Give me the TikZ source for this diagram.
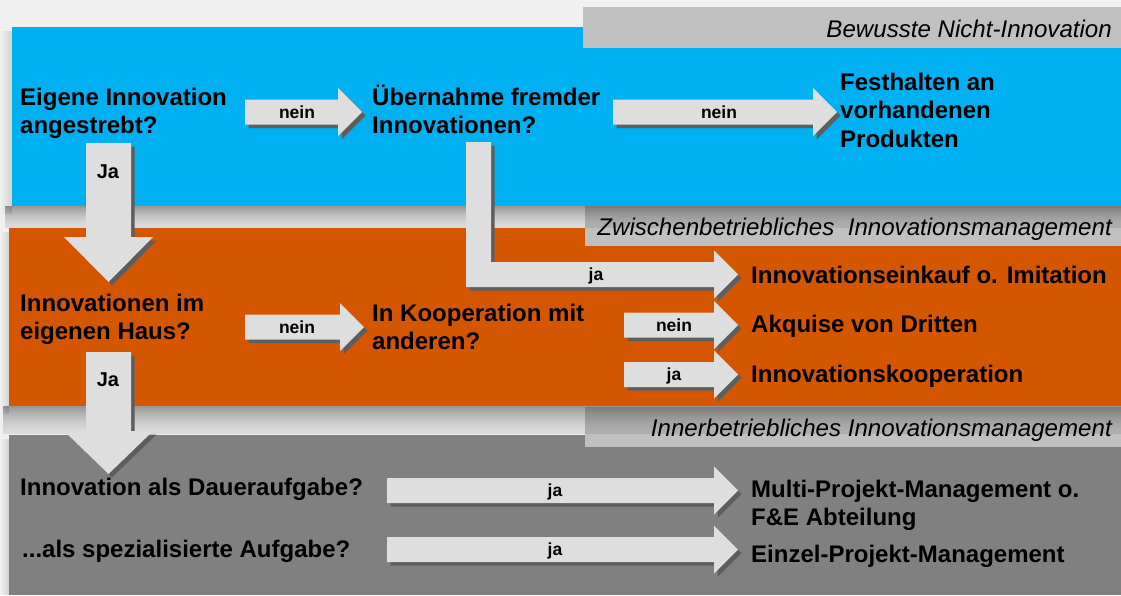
\documentclass[tikz,border=0pt]{standalone}
\usepackage{fontspec}
\setmainfont{Liberation Sans}
\usetikzlibrary{fadings}

\definecolor{bgcol}{HTML}{F0F0F0}
\definecolor{bandblue}{HTML}{00B0F0}
\definecolor{bandorange}{HTML}{D55600}
\definecolor{bandgray}{HTML}{808080}
\definecolor{tagcol}{HTML}{C0C0C0}
\definecolor{arrowfill}{HTML}{DEDEDE}
\definecolor{arrowshade}{HTML}{5E5E5E}

\tikzfading[name=shadowleft, left color=transparent!100, right color=transparent!88]

\tikzset{
  maintext/.style={anchor=base west, inner sep=0pt,
    font=\bfseries\fontsize{24}{28.8}\selectfont},
  tagtext/.style={anchor=base east, inner sep=0pt,
    font=\itshape\fontsize{24.1}{28}\selectfont},
  arrowlabel/.style={anchor=base, inner sep=0pt,
    font=\bfseries\fontsize{17.5}{20}\selectfont},
  downlabel/.style={anchor=base, inner sep=0pt,
    font=\bfseries\fontsize{20}{24}\selectfont},
  blockarrow/.style={fill=arrowfill},
  blockshadow/.style={fill=arrowshade, shift={(3.5,3.5)}},
  sideshadow/.style={fill=black, path fading=shadowleft},
}

% lines stacked on a common baseline grid; the first baseline is the node base
\newcommand\linestack[1]{\vtop{#1}}

% soft shadow below a band: left x, top y, height in 2pt strips
\newcommand\bandshadow[3]{%
  \foreach \i in {0,...,#3}
    \fill[black, opacity={0.09+0.27*(1-\i/#3)^1.6}]
      (#1,#2+2*\i) rectangle (1121,#2+2*\i+2);}

% block arrow pointing right: style, tail x, tip x, centre y
\newcommand\rightshape[4]{%
  \fill[#1] (#2,#4-12.5) -- (#3-24,#4-12.5) -- (#3-24,#4-24) -- (#3,#4)
    -- (#3-24,#4+24) -- (#3-24,#4+12.5) -- (#2,#4+12.5) -- cycle;}
% block arrow with its label: name, tail x, tip x, centre y, label x, label
\newcommand\rightblock[6]{%
  \rightshape{blockshadow}{#2}{#3}{#4}
  \rightshape{blockarrow}{#2}{#3}{#4}
  \node[arrowlabel] (#1) at (#5,#4+6) {#6};}

% block arrow pointing down: style, centre x, top y, head y, tip y
\newcommand\downshape[5]{%
  \fill[#1] (#2-22.5,#3) -- (#2+22.5,#3) -- (#2+22.5,#4) -- (#2+44.5,#4)
    -- (#2,#5) -- (#2-44.5,#4) -- (#2-22.5,#4) -- cycle;}

\begin{document}
\begin{tikzpicture}[x=1pt, y=-1pt]
  \useasboundingbox (0,0) rectangle (1121,595);
  \fill[bgcol] (0,0) rectangle (1121,595);

  % soft shadows on the left of the bands
  \fill[sideshadow] (0,31) rectangle (12,214);
  \fill[sideshadow] (0,232) rectangle (9,414);
  \fill[sideshadow] (0,439) rectangle (9,595);

  % the three bands
  \fill[bandblue]   (12,27)  rectangle (1121,206);
  \fill[bandorange] (9,228)  rectangle (1121,406);
  \fill[bandgray]   (9,435)  rectangle (1121,595);

  % caption boxes
  \fill[tagcol] (583,7)   rectangle (1121,48);
  \fill[tagcol] (585,206) rectangle (1121,246);
  \fill[tagcol] (585,407) rectangle (1121,447);

  % shadows cast below the bands
  \bandshadow{5}{206}{10}
  \bandshadow{3}{406}{13}

  % captions
  \node[tagtext] (tagnicht)    at (1112,37)  {Bewusste Nicht-Innovation};
  \node[tagtext] (tagzwischen) at (1112,235) {Zwischenbetriebliches\ \ Innovationsmanagement};
  \node[tagtext] (taginner)    at (1112,436) {Innerbetriebliches Innovationsmanagement};

  % downward "Ja" arrows
  \downshape{blockshadow}{108.5}{143}{237}{282}
  \downshape{blockarrow}{108.5}{143}{237}{282}
  \node[downlabel] (ja1) at (108,178) {Ja};
  \downshape{blockshadow}{108.5}{352}{431}{474}
  \downshape{blockarrow}{108.5}{352}{431}{474}
  \node[downlabel] (ja2) at (108,386) {Ja};

  % bent arrow from the takeover question to the purchase option
  \foreach \st in {blockshadow, blockarrow}
    \fill[\st] (466,142) -- (491,142) -- (491,262) -- (714,262) -- (714,250.5)
      -- (738,274.5) -- (714,298.5) -- (714,287) -- (466,287) -- cycle;
  \node[arrowlabel] (jaL) at (596,280.5) {ja};

  % straight arrows
  \rightblock{nein1}{245}{362}{112}{297}{nein}
  \rightblock{nein2}{613}{837}{112}{719}{nein}
  \rightblock{nein3}{245}{364}{327}{297}{nein}
  \rightblock{nein4}{624}{738}{325}{674}{nein}
  \rightblock{jaK}{624}{738}{374.5}{674}{ja}
  \rightblock{jaD}{387}{738}{490.5}{555}{ja}
  \rightblock{jaS}{387}{738}{549.5}{555}{ja}

  % questions and outcomes
  \node[maintext] (eigen) at (20,105)
    {\linestack{\hbox{Eigene Innovation}\hbox{angestrebt?}}};
  \node[maintext] (uebernahme) at (372,105)
    {\linestack{\hbox{Übernahme fremder}\hbox{Innovationen?}}};
  \node[maintext] (festhalten) at (840,90)
    {\linestack{\hbox{Festhalten an}\hbox{vorhandenen}\hbox{Produkten}}};
  \node[maintext] (imhaus) at (20,311)
    {\linestack{\hbox{Innovationen im}\hbox{eigenen Haus?}}};
  \node[maintext] (kooperation) at (372,321)
    {\linestack{\hbox{In Kooperation mit}\hbox{anderen?}}};
  \node[maintext] (einkauf) at (751,283) {Innovationseinkauf o. Imitation};
  \node[maintext] (akquise) at (751,332) {Akquise von Dritten};
  \node[maintext] (koop)    at (751,382) {Innovationskooperation};
  \node[maintext] (dauer)   at (20,495)  {Innovation als Daueraufgabe?};
  \node[maintext] (spezial) at (22,557)  {...als spezialisierte Aufgabe?};
  \node[maintext] (multi)   at (751,497)
    {\linestack{\hbox{Multi-Projekt-Management o.}\hbox{F\&E Abteilung}}};
  \node[maintext] (einzel)  at (751,562) {Einzel-Projekt-Management};
\end{tikzpicture}
\end{document}
